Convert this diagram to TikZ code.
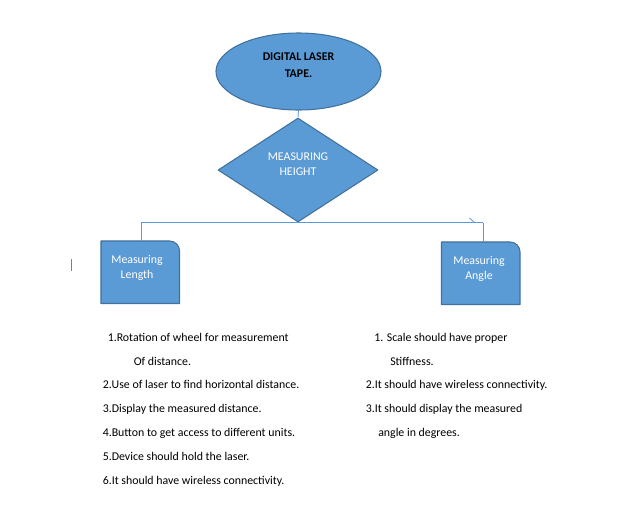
\documentclass[tikz,border=0pt]{standalone}
\usepackage{fontspec}
\setmainfont{Carlito}
\usetikzlibrary{shapes.geometric,arrows.meta}
\definecolor{boxblue}{HTML}{5B9BD5}
\definecolor{edgeblue}{HTML}{41719C}

\begin{document}
\begin{tikzpicture}[x=0.75pt, y=-0.75pt, line join=round, font=\fontsize{8.9}{11.2}\selectfont,
  top/.style={ellipse, draw=edgeblue, fill=boxblue, line width=0.8pt, minimum width=123.75pt, minimum height=57.75pt, inner sep=0pt, align=center},
  choice/.style={diamond, draw=edgeblue, fill=boxblue, line width=0.8pt, minimum width=120pt, minimum height=78pt, inner sep=0pt, align=center, text=white},
  leaf/.style={rectangle, minimum width=58.5pt, minimum height=46.5pt, inner sep=0pt},
  leaftext/.style={align=center, text=white},
  leafshape/.style={draw=edgeblue, fill=boxblue, line width=0.8pt},
  link/.style={draw=boxblue, line width=0.6pt},
  item/.style={anchor=base west, inner sep=0pt}]
\useasboundingbox (0,0) rectangle (625,529);

\node[top] (tape) at (298.5,71.5) {};
\node[align=center, font=\fontsize{8.9}{12.5}\selectfont\bfseries] (tapetext) at (298.5,65) {DIGITAL LASER\\TAPE.};
\node[choice] (height) at (298,170) {};
\node[leaftext] (heighttext) at (298,164.5) {MEASURING\\HEIGHT};

\node[leaf] (length) at (140.25,272.25) {};
\node[leaf] (angle) at (480.75,273.25) {};
\draw[leafshape] (length.south west) -- (length.north west) -- ([xshift=-7.5pt]length.north east) to[out=0,in=90] ([yshift=-7.5pt]length.north east) -- (length.south east) -- cycle;
\draw[leafshape] (angle.south west) -- (angle.north west) -- ([xshift=-7.5pt]angle.north east) to[out=0,in=90] ([yshift=-7.5pt]angle.north east) -- (angle.south east) -- cycle;
\node[leaftext] (lengthtext) at (137,267.5) {Measuring\\Length};
\node[leaftext] (angletext) at (479,268.5) {Measuring\\Angle};

% connectors
\coordinate (lturn) at (141,222.5);
\coordinate (rturn) at (483,222.5);
\coordinate (tick) at (469.5,218);
\draw[link] (tape.south) -- (height.north);
\draw[link] (lturn) -- (rturn);
\draw[link] (lturn) -- (lturn |- length.north);
\draw[link] (rturn) -- (rturn |- angle.north);
\draw[link] (tick) -- ++(4.8,4.3);

% cursor mark
\draw[gray, line width=0.7pt] (71,259) -- (71,271);

% left list
\node[item] (l1) at (107.5,341) {1.Rotation of wheel for measurement};
\node[item] (l1b) at (133.5,365) {Of distance.};
\node[item] (l2) at (102.5,388.5) {2.Use of laser to find horizontal distance.};
\node[item] (l3) at (102.5,412.5) {3.Display the measured distance.};
\node[item] (l4) at (102.5,436.5) {4.Button to get access to different units.};
\node[item] (l5) at (102.5,460.5) {5.Device should hold the laser.};
\node[item] (l6) at (102.5,484.5) {6.It should have wireless connectivity.};

% right list
\node[item] (r1) at (374,341) {1. Scale should have proper};
\node[item] (r1b) at (390,365) {Stiffness.};
\node[item] (r2) at (365.5,388.5) {2.It should have wireless connectivity.};
\node[item] (r3) at (365.5,412.5) {3.It should display the measured};
\node[item] (r3b) at (378,436.5) {angle in degrees.};
\end{tikzpicture}
\end{document}
